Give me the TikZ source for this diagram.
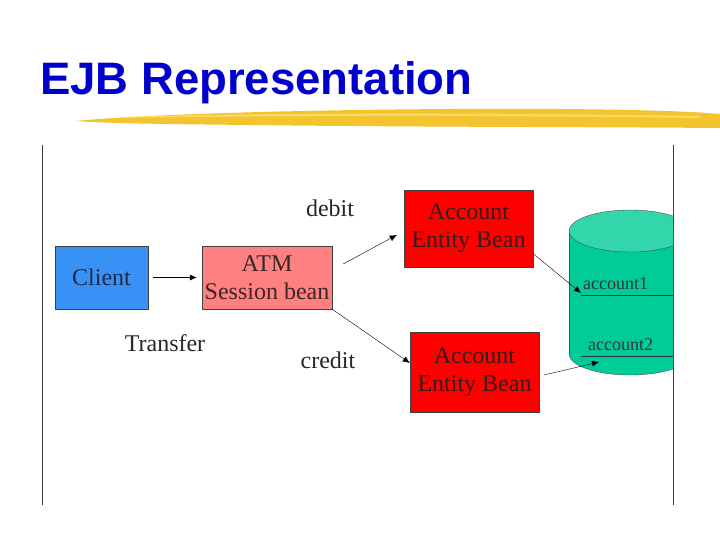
\documentclass[tikz,border=0pt]{standalone}
\usepackage{fontspec}
\setmainfont{Liberation Serif}
\newfontfamily\titlefont{Liberation Sans}
\usetikzlibrary{positioning,arrows.meta,calc}
\definecolor{titleblue}{RGB}{0, 0, 204}
\definecolor{clientblue}{RGB}{56, 146, 245}
\definecolor{sessionpink}{RGB}{255, 128, 128}
\definecolor{entityred}{RGB}{255, 0, 0}
\definecolor{dbgreen}{RGB}{0, 204, 153}
\definecolor{dbtop}{RGB}{51, 214, 170}
\definecolor{brushgold}{RGB}{243, 196, 45}
\definecolor{brushlight}{RGB}{252, 226, 120}
\definecolor{framegray}{RGB}{60, 60, 80}

\begin{document}
\begin{tikzpicture}[
    x=1bp, y=-1bp,
    box/.style={draw=black!75, thin, align=center, inner sep=0pt,
        font=\fontsize{24bp}{28bp}\selectfont},
    client/.style={box, fill=clientblue, text=blue!15!black!85,
        minimum width=93bp, minimum height=63bp},
    session/.style={box, fill=sessionpink, text=red!10!black!85,
        minimum width=130bp, minimum height=63bp},
    entity/.style={box, fill=entityred, text=red!15!black!90,
        minimum width=129bp, minimum height=77bp},
    label/.style={inner sep=0pt, text=black!85, font=\fontsize{24bp}{28bp}\selectfont},
    slot/.style={inner sep=0pt, anchor=base west, text=black!80,
        font=\fontsize{18bp}{20bp}\selectfont},
    arrow/.style={-{Latex[length=7bp,width=6bp]}, thin, draw=black}
]
\useasboundingbox (0,0) rectangle (720,540);

% title and brush stroke
\node[anchor=base west, inner sep=0pt, text=titleblue,
    font=\titlefont\bfseries\fontsize{45.5bp}{45.5bp}\selectfont] (title) at (40,95) {EJB Representation};
\fill[brushgold] (75,121) .. controls (150,114) and (300,110) .. (450,109)
    .. controls (600,108) and (690,111) .. (720,114) -- (720,128)
    .. controls (600,127) and (400,127) .. (250,125)
    .. controls (150,124) and (100,123) .. (75,121) -- cycle;
\fill[brushlight, opacity=0.7] (120,117) .. controls (250,113) and (450,112) .. (700,116)
    -- (700,118) .. controls (450,115) and (250,116) .. (120,118) -- cycle;

% frame
\draw[framegray, semithick] (42,145) -- (42,505);
\draw[framegray, semithick] (673,145) -- (673,505);

% database
\begin{scope}
  \clip (560,200) rectangle (673,400);
  \fill[dbgreen] (569,231) rectangle (691,354);
  \fill[dbgreen] (630,354) ellipse [x radius=61, y radius=21];
  \draw[black!70] (569,231) -- (569,354);
  \begin{scope}
    \clip (560,354) rectangle (700,400);
    \draw[black!70] (630,354) ellipse [x radius=61, y radius=21];
  \end{scope}
  \filldraw[fill=dbtop, draw=black!70] (630,231) ellipse [x radius=61, y radius=21];
\end{scope}
\coordinate (slot1) at (581,295);
\coordinate (slot1end) at (673,295);
\coordinate (slot2) at (581,356);
\coordinate (slot2end) at (673,356);
\draw[black!80] (slot1) -- (slot1end);
\draw[black!80] (slot2) -- (slot2end);
\node[slot] (account1) at (583,289) {account1};
\node[slot] (account2) at (588,350) {account2};

% beans
\node[client] (client) at (101.5,277.5) {Client};
\node[session] (atm) at (267,277.5) {ATM\\Session bean};
\node[entity] (acc1) at (468.5,228.5) {Account\\Entity Bean};
\node[entity, minimum height=80bp] (acc2) at (474.5,372) {Account\\Entity Bean};

\node[label] (transfer) at (165,343) {Transfer};
\node[label] (debit) at (330,208) {debit};
\node[label] (credit) at (328,360) {credit};

\draw[arrow, shorten <=5bp, shorten >=5bp] (client) -- (atm);
\draw[arrow] ([xshift=11bp,yshift=13.5bp]atm.east) -- ([xshift=-7bp,yshift=-6.5bp]acc1.west);
\draw[arrow] (atm.south east) -- ([yshift=9bp]acc2.west);
\draw[arrow] ([xshift=1bp,yshift=-26bp]acc1.east) -- ([yshift=2bp]slot1);
\draw[arrow] ([xshift=5bp,yshift=-3bp]acc2.east) -- ([xshift=18bp,yshift=-6bp]slot2);
\end{tikzpicture}
\end{document}
